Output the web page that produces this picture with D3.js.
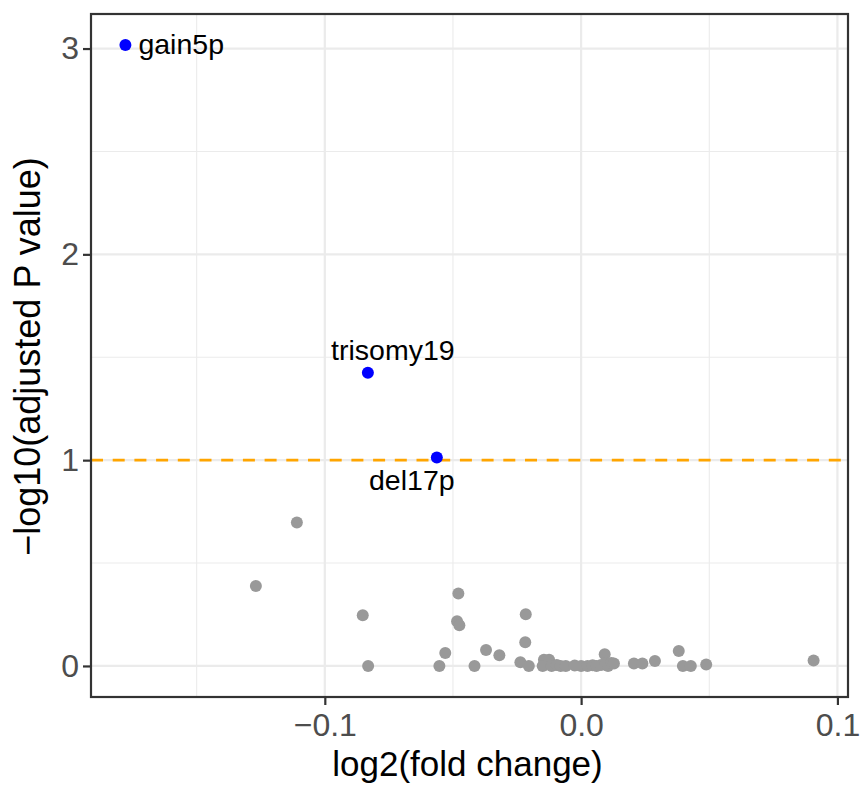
<!DOCTYPE html>
<html>
<head>
<meta charset="utf-8">
<script src="https://cdn.jsdelivr.net/npm/d3@7"></script>
<style>
  html, body { margin: 0; padding: 0; background: #ffffff; }
  svg { display: block; font-family: "Liberation Sans", Arial, Helvetica, sans-serif; }
</style>
</head>
<body>
<svg id="chart" width="864" height="788"></svg>
<script>
// ---- Data ----
const sigNames = ["gain5p", "trisomy19", "del17p"];
const sigLog2FC = [-0.1778, -0.0832, -0.0563];
const sigNegLogP = [3.017, 1.425, 1.013];

const nsLog2FC = [
  -0.1109, -0.1269, -0.0852, -0.0831, -0.0553, -0.0530, -0.0479, -0.0484, -0.0475,
  -0.0416, -0.0371, -0.0319, -0.0216, -0.0218, -0.0237, -0.0204,
  -0.0145, -0.0125, -0.0150, -0.0115, -0.0095, -0.0080, -0.0060, -0.0025,
  0.0000, 0.0025, 0.0045, 0.0060, 0.0078, 0.0092, 0.0096, 0.0105, 0.0118, 0.0128,
  0.0206, 0.0239, 0.0288, 0.0381, 0.0397, 0.0428, 0.0488, 0.0907
];
const nsNegLogP = [
  0.697, 0.389, 0.246, 0.000, 0.000, 0.063, 0.352, 0.217, 0.198,
  0.000, 0.078, 0.052, 0.251, 0.115, 0.018, 0.000,
  0.030, 0.030, 0.000, 0.000, 0.005, 0.000, 0.000, 0.002,
  0.000, 0.000, 0.003, 0.000, 0.005, 0.057, 0.012, 0.000, 0.014, 0.012,
  0.012, 0.012, 0.024, 0.073, 0.000, 0.000, 0.007, 0.026
];

const threshold = 1;

const xTickValues = [-0.1, 0, 0.1];
const xTickLabels = ["\u22120.1", "0.0", "0.1"];
const xMinorValues = [-0.15, -0.05, 0.05];
const yTickValues = [0, 1, 2, 3];
const yTickLabels = ["0", "1", "2", "3"];
const yMinorValues = [0.5, 1.5, 2.5];

const xTitle = "log2(fold change)";
const yTitle = "\u2212log10(adjusted P value)";

// ---- Layout ----
const panel = { left: 91, right: 848, top: 14, bottom: 697 };
const svg = d3.select("#chart");

const allX = nsLog2FC.concat(sigLog2FC);
const allY = nsNegLogP.concat(sigNegLogP);
function expand(ext) { const d = (ext[1] - ext[0]) * 0.05; return [ext[0] - d, ext[1] + d]; }

const x = d3.scaleLinear().domain(expand(d3.extent(allX))).range([panel.left, panel.right]);
const y = d3.scaleLinear().domain(expand(d3.extent(allY))).range([panel.bottom, panel.top]);

const g = svg.append("g");

// grid
g.selectAll(".xminor").data(xMinorValues).enter().append("line")
  .attr("x1", d => x(d)).attr("x2", d => x(d)).attr("y1", panel.top).attr("y2", panel.bottom)
  .attr("stroke", "#ebebeb").attr("stroke-width", 1.1);
g.selectAll(".yminor").data(yMinorValues).enter().append("line")
  .attr("y1", d => y(d)).attr("y2", d => y(d)).attr("x1", panel.left).attr("x2", panel.right)
  .attr("stroke", "#ebebeb").attr("stroke-width", 1.1);
g.selectAll(".xmajor").data(xTickValues).enter().append("line")
  .attr("x1", d => x(d)).attr("x2", d => x(d)).attr("y1", panel.top).attr("y2", panel.bottom)
  .attr("stroke", "#ebebeb").attr("stroke-width", 2.2);
g.selectAll(".ymajor").data(yTickValues).enter().append("line")
  .attr("y1", d => y(d)).attr("y2", d => y(d)).attr("x1", panel.left).attr("x2", panel.right)
  .attr("stroke", "#ebebeb").attr("stroke-width", 2.2);

// threshold line
g.append("line")
  .attr("x1", panel.left).attr("x2", panel.right)
  .attr("y1", y(threshold)).attr("y2", y(threshold))
  .attr("stroke", "#FFA500").attr("stroke-width", 2.6)
  .attr("stroke-dasharray", "12,9.7");

// points
const nsData = nsLog2FC.map((v, i) => ({ x: v, y: nsNegLogP[i] }));
const sigData = sigNames.map((n, i) => ({ name: n, x: sigLog2FC[i], y: sigNegLogP[i] }));

g.selectAll(".ns").data(nsData).enter().append("circle")
  .attr("cx", d => x(d.x)).attr("cy", d => y(d.y)).attr("r", 6)
  .attr("fill", "#999999");
g.selectAll(".sig").data(sigData).enter().append("circle")
  .attr("cx", d => x(d.x)).attr("cy", d => y(d.y)).attr("r", 6)
  .attr("fill", "#0000FF");

// labels (repel-like placement offsets)
const labelPlacement = {
  "gain5p":    { dx: 13, dy: 8.5, anchor: "start" },
  "trisomy19": { dx: 25, dy: -13, anchor: "middle" },
  "del17p":    { dx: -25, dy: 33, anchor: "middle" }
};
g.selectAll(".lab").data(sigData).enter().append("text")
  .attr("x", d => x(d.x) + labelPlacement[d.name].dx)
  .attr("y", d => y(d.y) + labelPlacement[d.name].dy)
  .attr("text-anchor", d => labelPlacement[d.name].anchor)
  .attr("font-size", 28.5).attr("fill", "#000000")
  .text(d => d.name);

// panel border
g.append("rect")
  .attr("x", panel.left).attr("y", panel.top)
  .attr("width", panel.right - panel.left).attr("height", panel.bottom - panel.top)
  .attr("fill", "none").attr("stroke", "#333333").attr("stroke-width", 2.2);

// axes
const xAxis = d3.axisBottom(x).tickValues(xTickValues)
  .tickFormat((d, i) => xTickLabels[i]).tickSize(8).tickSizeOuter(0).tickPadding(8);
const gx = svg.append("g").attr("transform", `translate(0,${panel.bottom})`).call(xAxis);
gx.select(".domain").remove();
gx.selectAll(".tick line").attr("stroke", "#333333").attr("stroke-width", 2.2);
gx.selectAll(".tick text").attr("font-size", 32).attr("fill", "#4d4d4d")
  .attr("font-family", "Liberation Sans, Arial, Helvetica, sans-serif");

const yAxis = d3.axisLeft(y).tickValues(yTickValues)
  .tickFormat((d, i) => yTickLabels[i]).tickSize(8).tickSizeOuter(0).tickPadding(4);
const gy = svg.append("g").attr("transform", `translate(${panel.left},0)`).call(yAxis);
gy.select(".domain").remove();
gy.selectAll(".tick line").attr("stroke", "#333333").attr("stroke-width", 2.2);
gy.selectAll(".tick text").attr("font-size", 32).attr("fill", "#4d4d4d")
  .attr("font-family", "Liberation Sans, Arial, Helvetica, sans-serif");

// titles
svg.append("text")
  .attr("x", (panel.left + panel.right) / 2 - 2).attr("y", 776)
  .attr("text-anchor", "middle").attr("font-size", 35).attr("fill", "#000000")
  .text(xTitle);
svg.append("text")
  .attr("transform", `translate(40,${(panel.top + panel.bottom) / 2 + 1}) rotate(-90)`)
  .attr("text-anchor", "middle").attr("font-size", 36).attr("fill", "#000000")
  .text(yTitle);
</script>
</body>
</html>
